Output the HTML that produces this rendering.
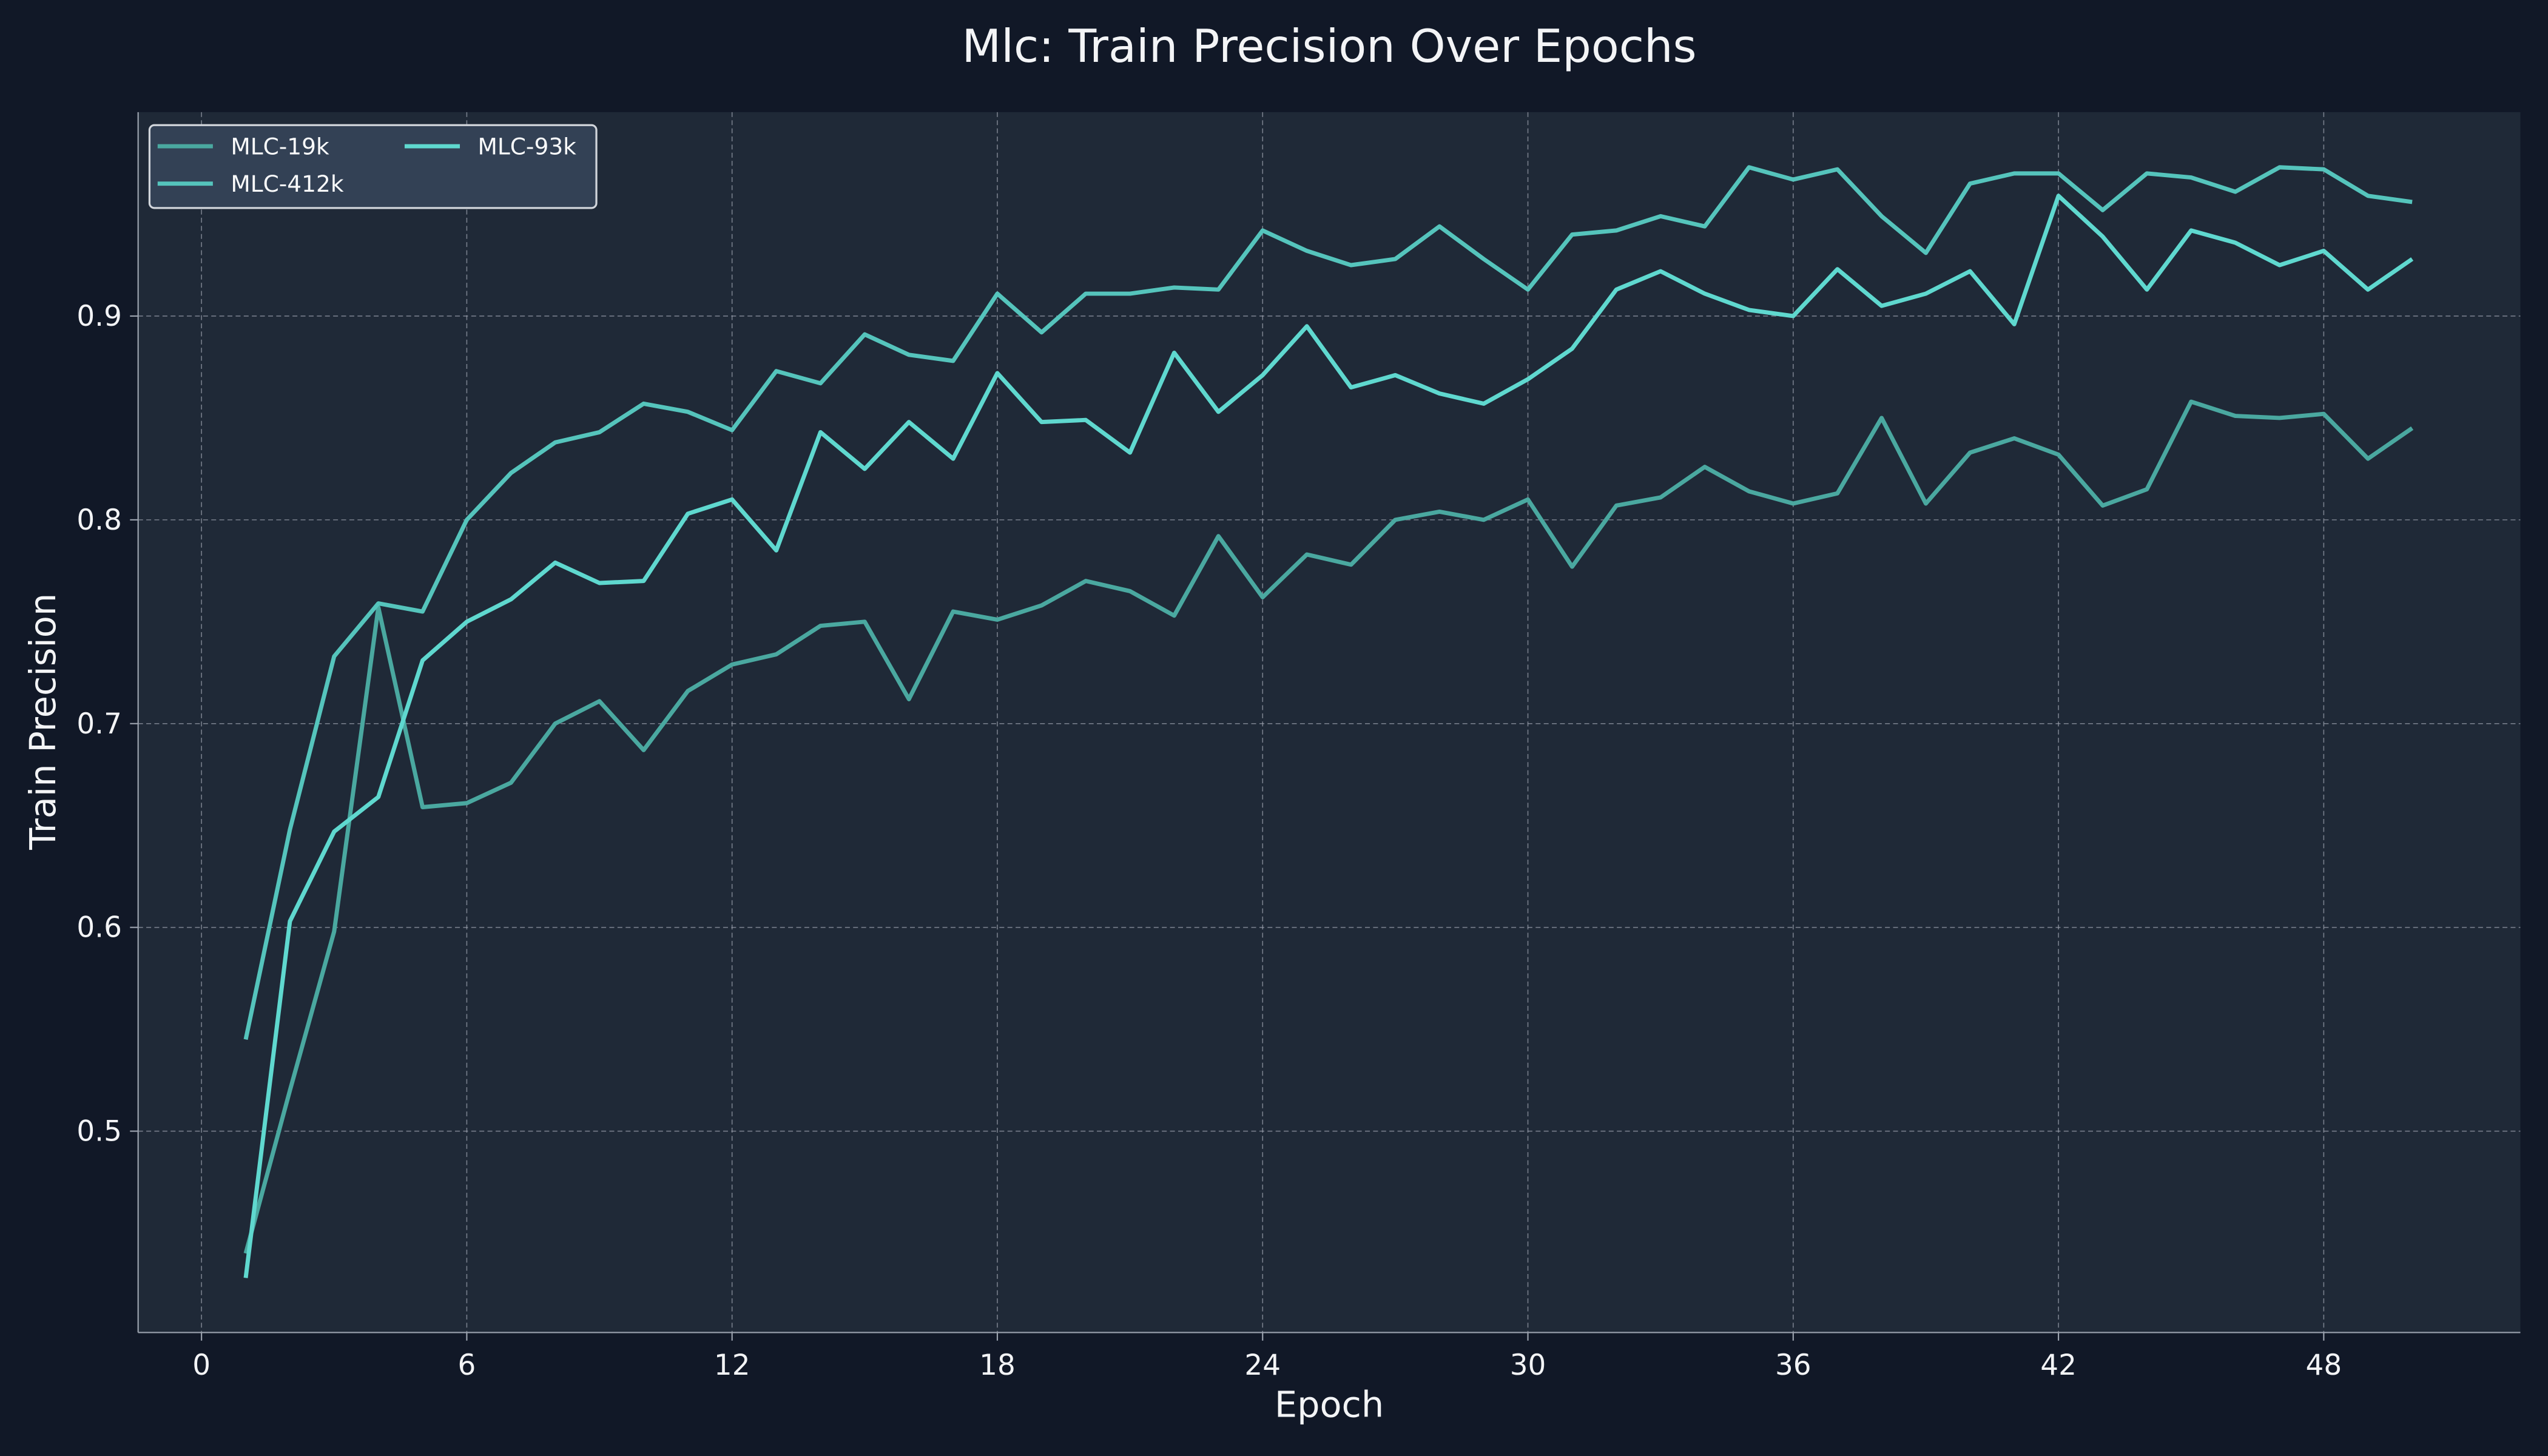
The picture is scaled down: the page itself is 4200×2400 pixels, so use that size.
<!DOCTYPE html>
<html><head><meta charset="utf-8"><style>
html,body{margin:0;padding:0;background:#111827;}
svg{display:block;font-family:"DejaVu Sans","Liberation Sans",sans-serif;}
</style></head><body>
<svg id="chart" width="4200" height="2400" viewBox="0 0 1568 896" xmlns="http://www.w3.org/2000/svg">
<rect x="0" y="0" width="1568" height="896" fill="#111827"/>
<rect x="85" y="69" width="1466" height="751" fill="#1f2937"/>
<g id="grid"></g>
<g id="series"></g>
<line x1="85" y1="69" x2="85" y2="820" stroke="#9ca3af" stroke-width="0.8"/>
<line x1="85" y1="820" x2="1551" y2="820" stroke="#9ca3af" stroke-width="0.8"/>
<g id="ticks"></g>
<text x="818" y="38" text-anchor="middle" font-size="28" fill="#f3f4f6">Mlc: Train Precision Over Epochs</text>
<text x="818" y="872" text-anchor="middle" font-size="22" fill="#f3f4f6">Epoch</text>
<text transform="translate(34,444) rotate(-90)" text-anchor="middle" font-size="22" fill="#f3f4f6">Train Precision</text>
<g>
<rect x="92" y="77" width="275" height="51" rx="3" fill="#334155" stroke="#d1d5db" stroke-width="1.2"/>
<line x1="97" y1="90" x2="131" y2="90" stroke="#4aa8a0" stroke-width="2.6"/>
<text x="142" y="95" font-size="14" fill="#f9fafb">MLC-19k</text>
<line x1="97" y1="113" x2="131" y2="113" stroke="#55c4bc" stroke-width="2.6"/>
<text x="142" y="118" font-size="14" fill="#f9fafb">MLC-412k</text>
<line x1="249" y1="90" x2="283" y2="90" stroke="#5fd8cf" stroke-width="2.6"/>
<text x="294" y="95" font-size="14" fill="#f9fafb">MLC-93k</text>
</g>
</svg>
<script>
const epochs = Array.from({length:50},(_,i)=>i+1);
const mlc19k = [0.44,0.52,0.598,0.757,0.659,0.661,0.671,0.700,0.711,0.687,0.716,0.729,0.734,0.748,0.750,0.712,0.755,0.751,0.758,0.770,0.765,0.753,0.792,0.762,0.783,0.778,0.800,0.804,0.800,0.810,0.777,0.807,0.811,0.826,0.814,0.808,0.813,0.850,0.808,0.833,0.840,0.832,0.807,0.815,0.858,0.851,0.850,0.852,0.830,0.845];
const mlc412k = [0.545,0.648,0.733,0.759,0.755,0.800,0.823,0.838,0.843,0.857,0.853,0.844,0.873,0.867,0.891,0.881,0.878,0.911,0.892,0.911,0.911,0.914,0.913,0.942,0.932,0.925,0.928,0.944,0.928,0.913,0.940,0.942,0.949,0.944,0.973,0.967,0.972,0.949,0.931,0.965,0.970,0.970,0.952,0.970,0.968,0.961,0.973,0.972,0.959,0.956];
const mlc93k = [0.428,0.603,0.647,0.664,0.731,0.750,0.761,0.779,0.769,0.770,0.803,0.810,0.785,0.843,0.825,0.848,0.830,0.872,0.848,0.849,0.833,0.882,0.853,0.871,0.895,0.865,0.871,0.862,0.857,0.869,0.884,0.913,0.922,0.911,0.903,0.900,0.923,0.905,0.911,0.922,0.896,0.959,0.939,0.913,0.942,0.936,0.925,0.932,0.913,0.928];
const xTicks = [0,6,12,18,24,30,36,42,48];
const yTicks = [0.5,0.6,0.7,0.8,0.9];
const xScale = e => 124 + (1430-124)/48*e;
const yScale = v => 194.5 - (v-0.9)*1254;
const NS="http://www.w3.org/2000/svg";
const grid=document.getElementById('grid'), ticks=document.getElementById('ticks'), series=document.getElementById('series');
function mk(tag,attrs,parent){const el=document.createElementNS(NS,tag);for(const k in attrs)el.setAttribute(k,attrs[k]);parent.appendChild(el);return el;}
xTicks.forEach(t=>{
  const x=xScale(t);
  const g=mk('line',{x1:x,y1:69,x2:x,y2:820,stroke:'#9ca3af','stroke-width':0.6,'stroke-dasharray':'3,2','stroke-opacity':0.7},grid);
  
  
  const tk=mk('line',{x1:x,y1:820,x2:x,y2:825,stroke:'#9ca3af','stroke-width':0.8},ticks);
  
  
  const tx=mk('text',{x:x,y:846,'text-anchor':'middle','font-size':17.5,fill:'#f3f4f6'},ticks);
  tx.textContent=t;
  
  
});
yTicks.forEach(t=>{
  const y=yScale(t);
  const g=mk('line',{x1:85,y1:y,x2:1551,y2:y,stroke:'#9ca3af','stroke-width':0.6,'stroke-dasharray':'3,2','stroke-opacity':0.7},grid);
  
  
  const tk=mk('line',{x1:80,y1:y,x2:85,y2:y,stroke:'#9ca3af','stroke-width':0.8},ticks);
  
  
  const tx=mk('text',{x:75,y:y+6,'text-anchor':'end','font-size':17.5,fill:'#f3f4f6'},ticks);
  tx.textContent=t.toFixed(1);
  
  
});
function line(vals,color,name){
  const d=vals.map((v,i)=>(i?'L':'M')+xScale(epochs[i]).toFixed(2)+','+yScale(v).toFixed(2)).join(' ');
  const p=mk('path',{d:d,fill:'none',stroke:color,'stroke-width':2.6,'stroke-linejoin':'round'},series);
  
  
}
line(mlc19k,'#4aa8a0','line-mlc-19k');
line(mlc412k,'#55c4bc','line-mlc-412k');
line(mlc93k,'#5fd8cf','line-mlc-93k');
</script>
</body></html>
